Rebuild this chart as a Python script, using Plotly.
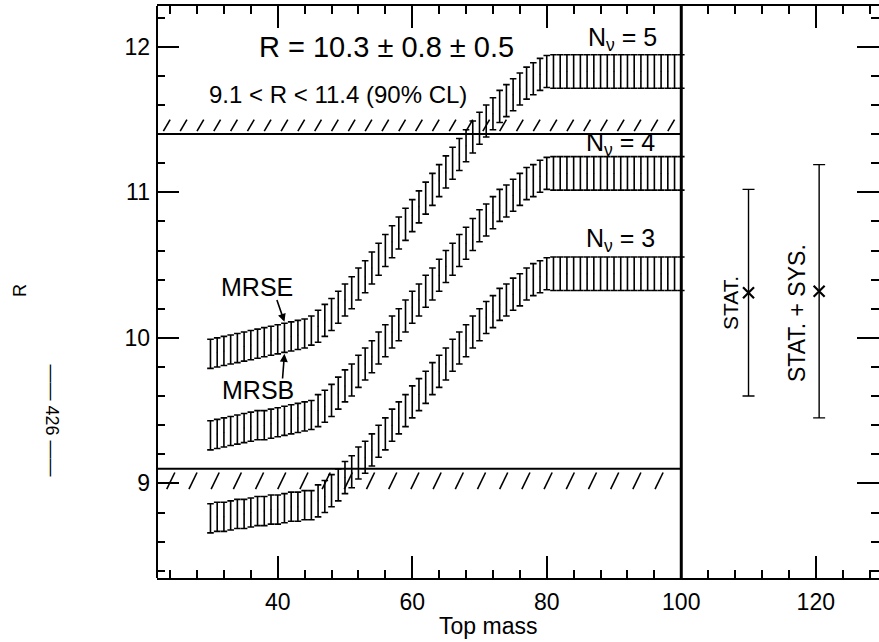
import numpy as np
import plotly.graph_objects as go

# ---------------- data ----------------
top_mass = list(range(30, 101))

# band centres (N_nu = 3, 4, 5)
r_n5 = ([9.89, 9.90, 9.91, 9.92, 9.93, 9.94, 9.95, 9.96, 9.97, 9.98, 9.99, 10.00, 10.01, 10.02, 10.03, 10.05]
        + [10.08, 10.12, 10.16, 10.21, 10.26, 10.31, 10.37, 10.42, 10.48, 10.54, 10.60, 10.66, 10.72, 10.78,
           10.84, 10.90, 10.96, 11.02, 11.08, 11.14, 11.20, 11.26, 11.32, 11.38, 11.44, 11.49, 11.54, 11.59,
           11.63, 11.67, 11.71, 11.75, 11.78, 11.81, 11.83]
        + [11.83] * 20)
r_n4 = ([9.33, 9.34, 9.35, 9.36, 9.37, 9.38, 9.39, 9.40, 9.40, 9.41, 9.42, 9.43, 9.44, 9.45, 9.46, 9.47]
        + [9.50, 9.53, 9.57, 9.62, 9.67, 9.71, 9.77, 9.82, 9.87, 9.93, 9.98, 10.04, 10.09, 10.15, 10.21,
           10.26, 10.32, 10.37, 10.43, 10.49, 10.54, 10.60, 10.65, 10.71, 10.77, 10.81, 10.86, 10.91, 10.94,
           10.98, 11.02, 11.06, 11.08, 11.11, 11.13]
        + [11.13] * 20)
r_n3 = ([8.76, 8.77, 8.77, 8.78, 8.79, 8.79, 8.80, 8.81, 8.81, 8.82, 8.82, 8.83, 8.84, 8.84, 8.85, 8.85]
        + [8.88, 8.91, 8.95, 8.99, 9.04, 9.08, 9.14, 9.18, 9.23, 9.29, 9.34, 9.40, 9.45, 9.50, 9.56, 9.61,
           9.66, 9.72, 9.77, 9.82, 9.88, 9.93, 9.98, 10.04, 10.09, 10.14, 10.18, 10.23, 10.26, 10.30, 10.33,
           10.37, 10.40, 10.42, 10.44]
        + [10.44] * 20)
# half spread between MRSB (lower) and MRSE (upper)
half_spread = [0.10] * 16 + [0.11] * 35 + [0.115] * 20

r_limits = [9.1, 11.4]          # 90% CL limits
meas_x = [110.0, 120.5]
meas_r = [10.31, 10.32]
meas_err = [0.71, 0.87]
meas_labels = ["STAT.", "STAT. + SYS."]

x_ticks = [40, 60, 80, 100, 120]
y_ticks = [9, 10, 11, 12]

# ---------------- figure ----------------
fig = go.Figure()

FONT = "Liberation Sans"
X0, X1 = 22.05, 129.4
Y0, Y1 = 8.35, 12.28

# hatching of the excluded regions (decoration derived from the limits)
hx, hy = [], []
for xs in np.arange(23.0, 99.0, 2.5):
    hx += [xs, xs + 1.0, None]
    hy += [r_limits[1] + 0.02, r_limits[1] + 0.10, None]
for xs in np.arange(23.5, 99.0, 3.3):
    hx += [xs, xs + 1.2, None]
    hy += [r_limits[0] - 0.14, r_limits[0] - 0.025, None]
fig.add_trace(go.Scatter(x=hx, y=hy, mode="lines", line=dict(color="black", width=1.6),
                         hoverinfo="skip"))

for r in r_limits:
    fig.add_shape(type="line", xref="x", yref="y", x0=X0, x1=100, y0=r, y1=r,
                  line=dict(color="black", width=2))

fig.add_shape(type="line", xref="x", yref="paper", x0=100, x1=100, y0=0, y1=1,
              line=dict(color="black", width=3))
# left frame edge (right frame edge lies outside the scanned page)
fig.add_shape(type="line", xref="paper", yref="paper", x0=0, x1=0, y0=0, y1=1,
              line=dict(color="black", width=2))

for band in (r_n3, r_n4, r_n5):
    fig.add_trace(go.Scatter(
        x=top_mass, y=band, mode="markers",
        marker=dict(size=1, color="black"),
        error_y=dict(type="data", symmetric=True, array=half_spread,
                     width=3.3, thickness=1.6, color="black"),
        hoverinfo="skip"))

fig.add_trace(go.Scatter(
    x=meas_x, y=meas_r, mode="markers",
    marker=dict(symbol="x-thin", size=11, line=dict(color="black", width=2.2), color="black"),
    error_y=dict(type="data", symmetric=True, array=meas_err, width=6, thickness=1.4, color="black"),
    hoverinfo="skip"))

axis_common = dict(linecolor="black", linewidth=2, mirror="allticks",
                   ticks="inside", ticklen=22, tickwidth=2, tickcolor="black",
                   showgrid=False, zeroline=False,
                   tickfont=dict(family=FONT, size=23, color="black"))

fig.update_xaxes(range=[X0, X1], tickvals=x_ticks, ticklabelstandoff=2, showline=True,
                 minor=dict(dtick=4, tick0=0, ticks="inside", ticklen=8, tickwidth=1.5,
                            tickcolor="black", showgrid=False),
                 **axis_common)
fig.update_yaxes(range=[Y0, Y1], tickvals=y_ticks, ticklabelstandoff=6, showline=False,
                 minor=dict(dtick=0.2, tick0=0, ticks="inside", ticklen=8, tickwidth=1.5,
                            tickcolor="black", showgrid=False),
                 **axis_common)

ann = []
def txt(x, y, s, size, xref="x", yref="y", angle=0):
    ann.append(dict(x=x, y=y, xref=xref, yref=yref, text=s, showarrow=False,
                    textangle=angle, font=dict(family=FONT, size=size, color="black"),
                    xanchor="center", yanchor="middle"))

txt(56.2, 12.0, "R = 10.3 ± 0.8 ± 0.5", 29)
txt(49.0, 11.67, "9.1 &lt; R &lt; 11.4 (90% CL)", 24)
txt(91.2, 12.05, "N<sub>ν</sub> = 5", 25)
txt(90.9, 11.33, "N<sub>ν</sub> = 4", 25)
txt(91.0, 10.67, "N<sub>ν</sub> = 3", 25)
txt(36.9, 10.35, "MRSE", 25)
txt(37.0, 9.64, "MRSB", 25)
txt(107.4, 10.24, meas_labels[0], 21, angle=-90)
txt(117.2, 10.17, meas_labels[1], 23, angle=-90)
txt(0.459, -0.084, "Top mass", 23, xref="paper", yref="paper")
txt(-0.19, 0.503, "R", 18, xref="paper", yref="paper", angle=-90)
txt(-0.146, 0.276, "—— 426 ——", 18, xref="paper", yref="paper", angle=90)

ann.append(dict(x=41.0, y=10.11, ax=39.8, ay=10.27, xref="x", yref="y", axref="x", ayref="y",
                showarrow=True, arrowhead=2, arrowsize=1, arrowwidth=1.6, arrowcolor="black", text=""))
ann.append(dict(x=41.0, y=9.89, ax=40.7, ay=9.71, xref="x", yref="y", axref="x", ayref="y",
                showarrow=True, arrowhead=2, arrowsize=1, arrowwidth=1.6, arrowcolor="black", text=""))

fig.update_layout(width=879, height=642, margin=dict(l=157, r=0, t=6, b=64),
                  paper_bgcolor="white", plot_bgcolor="white", showlegend=False,
                  annotations=ann)

fig.write_html("out.html")
